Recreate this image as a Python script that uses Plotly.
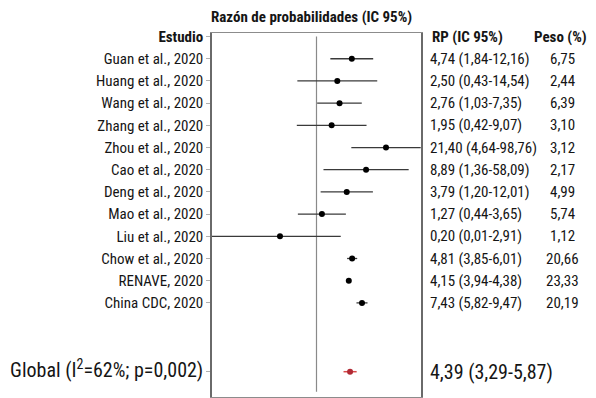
import plotly.graph_objects as go

studies = ["Guan et al., 2020", "Huang et al., 2020", "Wang et al., 2020", "Zhang et al., 2020",
           "Zhou et al., 2020", "Cao et al., 2020", "Deng et al., 2020", "Mao et al., 2020",
           "Liu et al., 2020", "Chow et al., 2020", "RENAVE, 2020", "China CDC, 2020"]
rp = [4.74, 2.50, 2.76, 1.95, 21.40, 8.89, 3.79, 1.27, 0.20, 4.81, 4.15, 7.43]
ci_lo = [1.84, 0.43, 1.03, 0.42, 4.64, 1.36, 1.20, 0.44, 0.01, 3.85, 3.94, 5.82]
ci_hi = [12.16, 14.54, 7.35, 9.07, 98.76, 58.09, 12.01, 3.65, 2.91, 6.01, 4.38, 9.47]
peso = [6.75, 2.44, 6.39, 3.10, 3.12, 2.17, 4.99, 5.74, 1.12, 20.66, 23.33, 20.19]
global_label = "Global (I<sup>2</sup>=62%; p=0,002)"
global_rp, global_lo, global_hi = 4.39, 3.29, 5.87

FONT = "Liberation Sans Narrow, Arial Narrow, Roboto Condensed, DejaVu Sans Condensed, sans-serif"
TXT = "#151515"

ypos = list(range(1, len(studies) + 1))
y_global = 15.1

def fmt(v):
    return f"{v:.2f}".replace(".", ",")

fig = go.Figure()

# CI lines
xs, ys = [], []
for y, l, h in zip(ypos, ci_lo, ci_hi):
    xs += [l, h, None]
    ys += [y, y, None]
fig.add_trace(go.Scatter(x=xs, y=ys, mode="lines", line=dict(color="#3a3a3a", width=1.3),
                         hoverinfo="skip", showlegend=False))
fig.add_trace(go.Scatter(x=rp, y=ypos, mode="markers",
                         marker=dict(color="#000000", size=6, symbol="circle"),
                         showlegend=False))
# Global
fig.add_trace(go.Scatter(x=[global_lo, global_hi], y=[y_global, y_global], mode="lines",
                         line=dict(color="#d84a4a", width=1.5), showlegend=False))
fig.add_trace(go.Scatter(x=[global_rp], y=[y_global], mode="markers",
                         marker=dict(color="#b02a35", size=6, symbol="circle"), showlegend=False))

# reference line at 1
fig.add_shape(type="line", x0=1, x1=1, y0=0, y1=16.0, xref="x", yref="y",
              line=dict(color="#8a8a8a", width=1.2), layer="below")

tickvals = [0] + ypos + [y_global]
ticktext = ["<b>Estudio</b>"] + studies + [f"<span style='font-size:20px'>{global_label}</span>"]

# page body has an 8px default margin, so the figure is 8px smaller
fig.update_layout(
    width=588, height=390,
    margin=dict(l=204, r=175, t=25, b=1, autoexpand=False),
    paper_bgcolor="white", plot_bgcolor="white",
    font=dict(family=FONT, size=15, color=TXT),
    xaxis=dict(type="log", range=[-2, 2], showgrid=False, zeroline=False,
               showticklabels=False, ticks="", showline=True, mirror=True,
               linecolor="#8c8c8c", linewidth=1.2, automargin=False),
    yaxis=dict(range=[16.24, -0.16], showgrid=False, zeroline=False,
               tickvals=tickvals, ticktext=ticktext, ticks="outside", ticklen=4,
               tickcolor="#b0b0b0", showline=True, mirror=True,
               linecolor="#6a6a6a", linewidth=1.5, automargin=False,
               tickfont=dict(family=FONT, size=15, color=TXT)),
)

ann = []
ann.append(dict(text="<b>Razón de probabilidades (IC 95%)</b>", x=0.478, y=1, xref="paper", yref="paper",
                yshift=16, showarrow=False, xanchor="center", yanchor="middle",
                font=dict(family=FONT, size=15, color=TXT)))
ann.append(dict(text="<b>RP (IC 95%)</b>", x=1.043, y=0, xref="paper", yref="y",
                showarrow=False, xanchor="left", yanchor="middle",
                font=dict(family=FONT, size=15, color=TXT)))
ann.append(dict(text="<b>Peso (%)</b>", x=1.668, y=0, xref="paper", yref="y",
                showarrow=False, xanchor="center", yanchor="middle",
                font=dict(family=FONT, size=15, color=TXT)))
for y, r, l, h, w in zip(ypos, rp, ci_lo, ci_hi, peso):
    ann.append(dict(text=f"{fmt(r)} ({fmt(l)}-{fmt(h)})", x=1.033, y=y, xref="paper", yref="y",
                    showarrow=False, xanchor="left", yanchor="middle",
                    font=dict(family=FONT, size=15, color=TXT)))
    ann.append(dict(text=fmt(w), x=1.679, y=y, xref="paper", yref="y",
                    showarrow=False, xanchor="center", yanchor="middle",
                    font=dict(family=FONT, size=15, color=TXT)))
ann.append(dict(text=f"{fmt(global_rp)} ({fmt(global_lo)}-{fmt(global_hi)})", x=1.033, y=y_global,
                xref="paper", yref="y", showarrow=False, xanchor="left", yanchor="middle",
                font=dict(family=FONT, size=20, color=TXT)))
fig.update_layout(annotations=ann)

fig.write_html("out.html")
